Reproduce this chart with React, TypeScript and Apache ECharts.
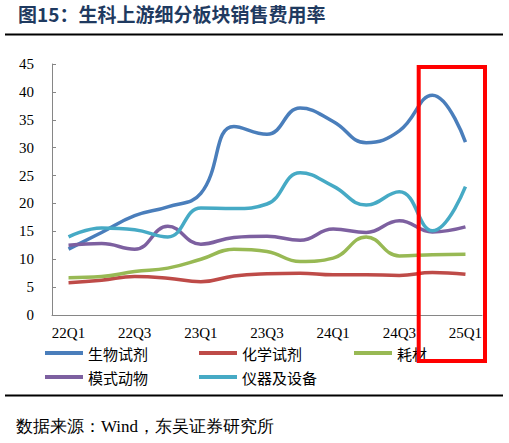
import { useEffect, useRef } from 'react'
import * as echarts from 'echarts'

const quarters = ['22Q1', '22Q2', '22Q3', '22Q4', '23Q1', '23Q2', '23Q3', '23Q4', '24Q1', '24Q2', '24Q3', '24Q4', '25Q1']
const bioReagent = [11.8, 14.8, 17.8, 19.4, 21.8, 33.8, 32.4, 37.1, 34.7, 30.9, 33.0, 39.4, 31.0]
const chemReagent = [5.8, 6.25, 6.9, 6.6, 5.95, 7.0, 7.4, 7.5, 7.2, 7.2, 7.1, 7.6, 7.3]
const consumables = [6.7, 6.9, 7.8, 8.4, 10.0, 11.8, 11.4, 9.6, 10.2, 14.0, 10.6, 10.8, 10.9]
const modelAnimal = [12.5, 12.8, 11.8, 15.9, 12.7, 13.9, 14.1, 13.4, 15.4, 14.8, 16.9, 14.9, 15.8]
const instruments = [14.0, 15.6, 15.3, 14.0, 19.2, 19.1, 19.9, 25.5, 23.1, 19.7, 22.1, 15.1, 23.0]

const seriesDefs = [
  { name: '生物试剂', data: bioReagent, color: '#4a7ebb' },
  { name: '化学试剂', data: chemReagent, color: '#be4b48' },
  { name: '耗材', data: consumables, color: '#98b954' },
  { name: '模式动物', data: modelAnimal, color: '#7d60a0' },
  { name: '仪器及设备', data: instruments, color: '#46aac5' }
]

// legend slots: [left, centerY]
const legendPos: [number, number][] = [
  [45, 353],
  [199, 353],
  [354, 353],
  [45, 377],
  [199, 377]
]

const serif = 'Liberation Serif'
const cjk = 'Noto Sans CJK SC'

export default function App() {
  const ref = useRef<HTMLDivElement>(null)

  useEffect(() => {
    document.body.style.margin = '0'
    if (!ref.current) return
    const chart = echarts.init(ref.current, undefined, { renderer: 'svg' })

    chart.setOption({
      animation: false,
      backgroundColor: '#fff',
      grid: { left: 52, right: 27, top: 64, bottom: 128 },
      legend: seriesDefs.map((s, i) => ({
        data: [s.name],
        left: legendPos[i][0],
        top: legendPos[i][1] - 9,
        padding: 0,
        icon: 'rect',
        itemWidth: 38,
        itemHeight: 4,
        textStyle: { fontFamily: cjk, fontSize: 15, color: '#000', lineHeight: 18 }
      })),
      xAxis: {
        type: 'category',
        data: quarters,
        boundaryGap: true,
        axisLine: { lineStyle: { color: '#868686', width: 1 } },
        axisTick: { inside: true, length: 4, interval: 0, lineStyle: { color: '#868686' } },
        axisLabel: { interval: 1, margin: 10, fontFamily: serif, fontSize: 15, color: '#000' },
        splitLine: { show: false }
      },
      yAxis: {
        type: 'value',
        min: 0,
        max: 45,
        interval: 5,
        axisLine: { show: true, lineStyle: { color: '#868686', width: 1 } },
        axisTick: { show: true, inside: true, length: 4, lineStyle: { color: '#868686' } },
        axisLabel: { margin: 18, fontFamily: serif, fontSize: 15, color: '#000' },
        splitLine: { show: false }
      },
      series: seriesDefs.map((s) => ({
        name: s.name,
        type: 'line',
        data: s.data,
        smooth: 0.45,
        symbol: 'none',
        color: s.color,
        lineStyle: { width: 3.5, color: s.color }
      })),
      graphic: [
        {
          type: 'text',
          left: 18,
          top: 4,
          style: {
            text: '图15：生科上游细分板块销售费用率',
            fontFamily: cjk,
            fontWeight: 'bold',
            fontSize: 19,
            fill: '#1f3a60'
          }
        },
        {
          type: 'line',
          shape: { x1: 5, y1: 34.5, x2: 503, y2: 34.5 },
          style: { stroke: '#000', lineWidth: 2 }
        },
        {
          type: 'line',
          shape: { x1: 5, y1: 395.5, x2: 503, y2: 395.5 },
          style: { stroke: '#000', lineWidth: 2 }
        },
        {
          type: 'text',
          left: 16,
          top: 418,
          style: {
            text: '数据来源：Wind，东吴证券研究所',
            fontFamily: serif,
            fontSize: 17,
            fill: '#000'
          }
        },
        {
          type: 'rect',
          z: 100,
          shape: { x: 418.7, y: 67, width: 66.3, height: 294 },
          style: { fill: 'none', stroke: '#ff0000', lineWidth: 4 }
        }
      ]
    })

    return () => chart.dispose()
  }, [])

  return <div ref={ref} style={{ width: 509, height: 443 }} />
}
